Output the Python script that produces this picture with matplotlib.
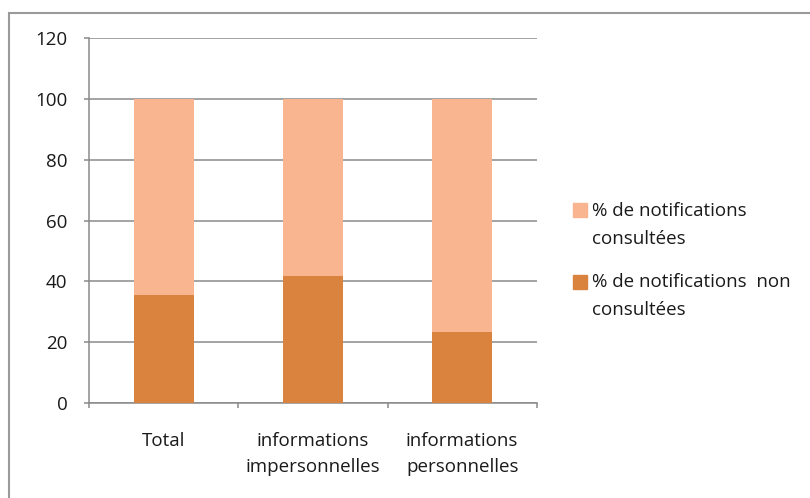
import matplotlib.pyplot as plt
from matplotlib.patches import Rectangle

categories = ["Total", "informations\nimpersonnelles", "informations\npersonnelles"]
non_consultees = [35.6, 41.8, 23.3]
consultees = [64.4, 58.2, 76.7]
series_labels = ["% de notifications\nconsultées", "% de notifications  non\nconsultées"]
colors = ["#F9B58F", "#D9833E"]
yticks = [0, 20, 40, 60, 80, 100, 120]

plt.rcParams["font.family"] = ["Open Sans", "DejaVu Sans"]

fig = plt.figure(figsize=(8.1, 4.98), dpi=100)
ax = fig.add_axes([0.1102, 0.1902, 0.5524, 0.7339])

x = list(range(len(categories)))
ax.bar(x, non_consultees, width=0.4, color=colors[1], zorder=3)
ax.bar(x, consultees, width=0.4, bottom=non_consultees, color=colors[0], zorder=3)

ax.set_xlim(-0.5, len(categories) - 0.5)
ax.set_ylim(0, 120)
ax.set_yticks(yticks)
ax.yaxis.grid(True, color="#8a8a8a", linewidth=1.1, zorder=0)

# ticks between categories, labels at the centres
ax.set_xticks([i - 0.5 for i in range(len(categories) + 1)])
ax.set_xticklabels([])
ax.set_xticks(x, minor=True)
ax.set_xticklabels(categories, minor=True, fontsize=13.5, color="#1a1a1a",
                   linespacing=1.6)
ax.tick_params(axis="x", which="minor", length=0, pad=20.5)
ax.tick_params(axis="x", which="major", length=3.6, color="#8a8a8a", width=1.1)
ax.tick_params(axis="y", length=3.6, color="#8a8a8a", width=1.1, labelsize=13.5,
               labelcolor="#1a1a1a", pad=12)

for s in ["top", "right"]:
    ax.spines[s].set_visible(False)
for s in ["left", "bottom"]:
    ax.spines[s].set_color("#8a8a8a")
    ax.spines[s].set_linewidth(1.1)

# legend drawn by hand so the square sits on the first line
W, H = 810, 498
legend_rows = [(203, 211), (275, 282)]
for (sq_top, txt_y), lab, c in zip(legend_rows, series_labels, colors):
    fig.patches.append(Rectangle((573 / W, 1 - (sq_top + 14) / H), 14 / W, 14 / H,
                                 transform=fig.transFigure, color=c))
    fig.text(592 / W, 1 - (txt_y - 9) / H, lab, fontsize=13.5, color="#1a1a1a",
             va="top", ha="left", linespacing=1.7,
             transform=fig.transFigure)

# outer chart border
fig.patches.append(Rectangle((9 / W, -0.1), 1.2, 1 - 13 / H + 0.1,
                             transform=fig.transFigure, fill=False,
                             edgecolor="#9a9a9a", linewidth=1.5))

fig.savefig("out.png", dpi=100)
